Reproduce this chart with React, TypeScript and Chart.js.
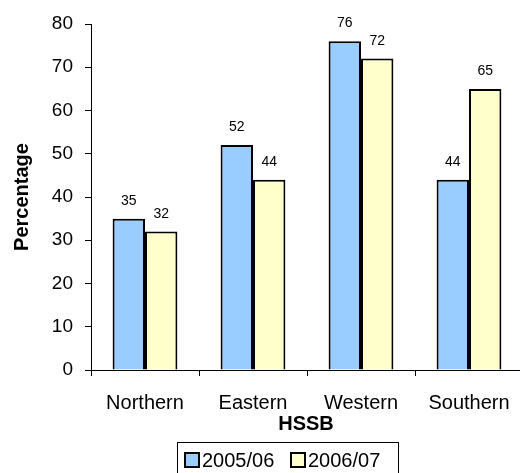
import React, { useEffect, useRef } from "react";
import { Chart, registerables } from "chart.js";

Chart.register(...registerables);

const categories = ["Northern", "Eastern", "Western", "Southern"];
const series2005 = [35, 52, 76, 44];
const series2006 = [32, 44, 72, 65];
const seriesLabels = ["2005/06", "2006/07"];
const yTicks = [0, 10, 20, 30, 40, 50, 60, 70, 80];

const FONT = "'Liberation Sans', Arial, sans-serif";

const annotate = {
  id: "annotate",
  afterDatasetsDraw(chart: any) {
    const ctx = chart.ctx;
    ctx.save();
    ctx.fillStyle = "#000";
    ctx.font = `14px ${FONT}`;
    ctx.textAlign = "center";
    ctx.textBaseline = "alphabetic";
    chart.data.datasets.forEach((ds: any, di: number) => {
      const meta = chart.getDatasetMeta(di);
      meta.data.forEach((bar: any, i: number) => {
        ctx.fillText(String(ds.data[i]), bar.x, bar.y - 14);
      });
    });
    ctx.restore();
  },
  afterDraw(chart: any) {
    const ctx = chart.ctx;
    const area = chart.chartArea;
    ctx.save();
    ctx.fillStyle = "#000";
    // y title
    ctx.font = `bold 20px ${FONT}`;
    ctx.textAlign = "center";
    ctx.textBaseline = "middle";
    ctx.translate(22, (area.top + area.bottom) / 2);
    ctx.rotate(-Math.PI / 2);
    ctx.fillText("Percentage", 0, 0);
    ctx.setTransform(1, 0, 0, 1, 0, 0);
    // x title
    ctx.fillText("HSSB", 306, 424);
    // legend
    ctx.lineWidth = 1;
    ctx.strokeStyle = "#000";
    ctx.strokeRect(177.5, 442.5, 221, 50);
    ctx.font = `20px ${FONT}`;
    ctx.textAlign = "left";
    ctx.textBaseline = "middle";
    const starts = [185, 291];
    chart.data.datasets.forEach((ds: any, di: number) => {
      const x = starts[di];
      ctx.fillStyle = ds.backgroundColor;
      ctx.fillRect(x, 453, 14, 14);
      ctx.lineWidth = 2;
      ctx.strokeRect(x, 453, 14, 14);
      ctx.fillStyle = "#000";
      ctx.fillText(ds.label, x + 17, 461);
    });
    ctx.restore();
  },
};

export default function App() {
  const ref = useRef<HTMLCanvasElement>(null);
  useEffect(() => {
    if (!ref.current) return;
    const chart = new Chart(ref.current, {
      type: "bar",
      data: {
        labels: categories,
        datasets: [
          {
            label: seriesLabels[0],
            data: series2005,
            backgroundColor: "#99CCFF",
            borderColor: "#000",
            borderWidth: 2,
          },
          {
            label: seriesLabels[1],
            data: series2006,
            backgroundColor: "#FFFFCC",
            borderColor: "#000",
            borderWidth: 2,
          },
        ],
      },
      options: {
        responsive: false,
        animation: false,
        devicePixelRatio: 1,
        layout: { padding: { left: 0, right: 3, top: 24, bottom: 0 } },
        plugins: {
          legend: { display: false },
          tooltip: { enabled: false },
        },
        datasets: { bar: { categoryPercentage: 0.6, barPercentage: 1 } },
        scales: {
          x: {
            grid: {
              display: true,
              drawOnChartArea: false,
              drawTicks: true,
              tickLength: 6,
              color: "#000",
              offset: true,
            },
            border: { display: true, color: "#000", width: 1 },
            ticks: {
              color: "#000",
              font: { family: FONT, size: 20 },
              padding: 15,
              maxRotation: 0,
            },
            afterFit: (s: any) => {
              s.height = 103;
            },
          },
          y: {
            min: 0,
            max: 80,
            afterBuildTicks: (s: any) => {
              s.ticks = yTicks.map((v) => ({ value: v }));
            },
            grid: {
              display: true,
              drawOnChartArea: false,
              drawTicks: true,
              tickLength: 6,
              color: "#000",
            },
            border: { display: true, color: "#000", width: 1 },
            ticks: {
              color: "#000",
              font: { family: FONT, size: 19 },
              padding: 12,
            },
            afterFit: (s: any) => {
              s.width = 91;
            },
          },
        },
      },
      plugins: [annotate],
    });
    return () => chart.destroy();
  }, []);
  return (
    <div
      style={{
        position: "fixed",
        left: 0,
        top: 0,
        width: 520,
        height: 473,
        overflow: "hidden",
        background: "#fff",
      }}
    >
      <canvas ref={ref} width={526} height={473} style={{ display: "block" }} />
    </div>
  );
}
